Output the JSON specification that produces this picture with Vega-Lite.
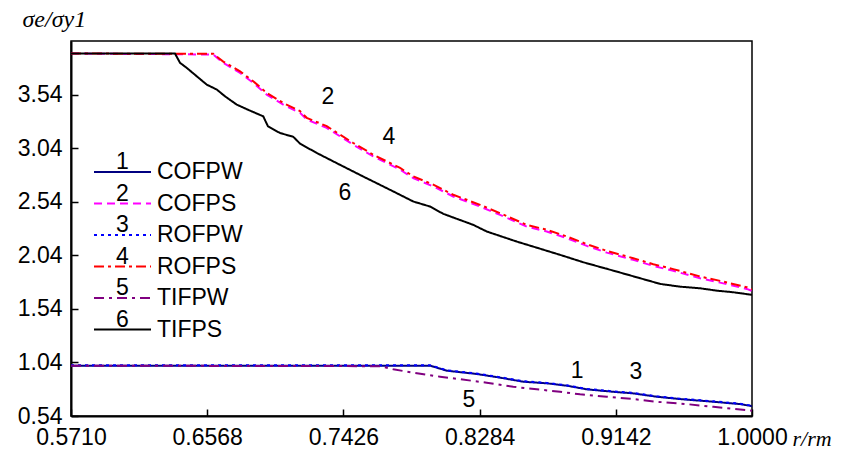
{
  "$schema": "https://vega.github.io/schema/vega-lite/v6.json",
  "width": 681,
  "height": 375,
  "autosize": {"type": "none"},
  "padding": {"left": 71, "top": 41, "right": 100, "bottom": 40},
  "background": "white",
  "config": {
    "view": {"stroke": "#000", "strokeWidth": 1.5},
    "axis": {
      "grid": false,
      "domainColor": "#000",
      "domainWidth": 2,
      "tickColor": "#000",
      "tickWidth": 1.5,
      "tickSize": -7,
      "labelFont": "Liberation Sans",
      "labelFontSize": 23,
      "labelColor": "#000",
      "labelFlush": false,
      "labelOverlap": false,
      "titleFont": "Liberation Serif",
      "titleFontStyle": "italic",
      "titleFontWeight": "normal",
      "titleColor": "#000"
    }
  },
  "datasets": {
    "curves": [
      {"s": "COFPW", "n": "1", "x": 0.571, "y": 1.01},
      {"s": "COFPW", "n": "1", "x": 0.7972, "y": 1.01},
      {"s": "COFPW", "n": "1", "x": 0.8077, "y": 0.963},
      {"s": "COFPW", "n": "1", "x": 0.8266, "y": 0.932},
      {"s": "COFPW", "n": "1", "x": 0.8413, "y": 0.898},
      {"s": "COFPW", "n": "1", "x": 0.8559, "y": 0.86},
      {"s": "COFPW", "n": "1", "x": 0.8707, "y": 0.845},
      {"s": "COFPW", "n": "1", "x": 0.8833, "y": 0.823},
      {"s": "COFPW", "n": "1", "x": 0.8959, "y": 0.789},
      {"s": "COFPW", "n": "1", "x": 0.9126, "y": 0.766},
      {"s": "COFPW", "n": "1", "x": 0.9252, "y": 0.751},
      {"s": "COFPW", "n": "1", "x": 0.94, "y": 0.72},
      {"s": "COFPW", "n": "1", "x": 0.9547, "y": 0.698},
      {"s": "COFPW", "n": "1", "x": 0.9756, "y": 0.673},
      {"s": "COFPW", "n": "1", "x": 0.9925, "y": 0.651},
      {"s": "COFPW", "n": "1", "x": 1.0, "y": 0.632},

      {"s": "COFPS", "n": "2", "x": 0.571, "y": 3.923},
      {"s": "COFPS", "n": "2", "x": 0.6606, "y": 3.914},
      {"s": "COFPS", "n": "2", "x": 0.6669, "y": 3.836},
      {"s": "COFPS", "n": "2", "x": 0.6775, "y": 3.742},
      {"s": "COFPS", "n": "2", "x": 0.6858, "y": 3.649},
      {"s": "COFPS", "n": "2", "x": 0.6943, "y": 3.54},
      {"s": "COFPS", "n": "2", "x": 0.7047, "y": 3.446},
      {"s": "COFPS", "n": "2", "x": 0.7153, "y": 3.369},
      {"s": "COFPS", "n": "2", "x": 0.7195, "y": 3.307},
      {"s": "COFPS", "n": "2", "x": 0.7321, "y": 3.229},
      {"s": "COFPS", "n": "2", "x": 0.7405, "y": 3.15},
      {"s": "COFPS", "n": "2", "x": 0.7488, "y": 3.072},
      {"s": "COFPS", "n": "2", "x": 0.7614, "y": 2.963},
      {"s": "COFPS", "n": "2", "x": 0.7783, "y": 2.839},
      {"s": "COFPS", "n": "2", "x": 0.7866, "y": 2.761},
      {"s": "COFPS", "n": "2", "x": 0.7992, "y": 2.683},
      {"s": "COFPS", "n": "2", "x": 0.8118, "y": 2.589},
      {"s": "COFPS", "n": "2", "x": 0.8287, "y": 2.495},
      {"s": "COFPS", "n": "2", "x": 0.8413, "y": 2.417},
      {"s": "COFPS", "n": "2", "x": 0.8581, "y": 2.308},
      {"s": "COFPS", "n": "2", "x": 0.8707, "y": 2.262},
      {"s": "COFPS", "n": "2", "x": 0.8833, "y": 2.2},
      {"s": "COFPS", "n": "2", "x": 0.8959, "y": 2.128},
      {"s": "COFPS", "n": "2", "x": 0.9085, "y": 2.065},
      {"s": "COFPS", "n": "2", "x": 0.9252, "y": 1.997},
      {"s": "COFPS", "n": "2", "x": 0.9378, "y": 1.941},
      {"s": "COFPS", "n": "2", "x": 0.9504, "y": 1.895},
      {"s": "COFPS", "n": "2", "x": 0.9673, "y": 1.826},
      {"s": "COFPS", "n": "2", "x": 0.9799, "y": 1.785},
      {"s": "COFPS", "n": "2", "x": 0.9967, "y": 1.726},
      {"s": "COFPS", "n": "2", "x": 1.0, "y": 1.707},

      {"s": "ROFPW", "n": "3", "x": 0.571, "y": 1.014},
      {"s": "ROFPW", "n": "3", "x": 0.7972, "y": 1.014},
      {"s": "ROFPW", "n": "3", "x": 0.8077, "y": 0.967},
      {"s": "ROFPW", "n": "3", "x": 0.8266, "y": 0.936},
      {"s": "ROFPW", "n": "3", "x": 0.8413, "y": 0.902},
      {"s": "ROFPW", "n": "3", "x": 0.8559, "y": 0.864},
      {"s": "ROFPW", "n": "3", "x": 0.8707, "y": 0.849},
      {"s": "ROFPW", "n": "3", "x": 0.8833, "y": 0.827},
      {"s": "ROFPW", "n": "3", "x": 0.8959, "y": 0.793},
      {"s": "ROFPW", "n": "3", "x": 0.9126, "y": 0.77},
      {"s": "ROFPW", "n": "3", "x": 0.9252, "y": 0.755},
      {"s": "ROFPW", "n": "3", "x": 0.94, "y": 0.724},
      {"s": "ROFPW", "n": "3", "x": 0.9547, "y": 0.702},
      {"s": "ROFPW", "n": "3", "x": 0.9756, "y": 0.677},
      {"s": "ROFPW", "n": "3", "x": 0.9925, "y": 0.655},
      {"s": "ROFPW", "n": "3", "x": 1.0, "y": 0.636},

      {"s": "ROFPS", "n": "4", "x": 0.571, "y": 3.923},
      {"s": "ROFPS", "n": "4", "x": 0.6606, "y": 3.92},
      {"s": "ROFPS", "n": "4", "x": 0.6669, "y": 3.848},
      {"s": "ROFPS", "n": "4", "x": 0.6775, "y": 3.757},
      {"s": "ROFPS", "n": "4", "x": 0.6858, "y": 3.664},
      {"s": "ROFPS", "n": "4", "x": 0.6943, "y": 3.556},
      {"s": "ROFPS", "n": "4", "x": 0.7047, "y": 3.462},
      {"s": "ROFPS", "n": "4", "x": 0.7153, "y": 3.385},
      {"s": "ROFPS", "n": "4", "x": 0.7195, "y": 3.323},
      {"s": "ROFPS", "n": "4", "x": 0.7321, "y": 3.245},
      {"s": "ROFPS", "n": "4", "x": 0.7405, "y": 3.166},
      {"s": "ROFPS", "n": "4", "x": 0.7488, "y": 3.088},
      {"s": "ROFPS", "n": "4", "x": 0.7614, "y": 2.979},
      {"s": "ROFPS", "n": "4", "x": 0.7783, "y": 2.855},
      {"s": "ROFPS", "n": "4", "x": 0.7866, "y": 2.777},
      {"s": "ROFPS", "n": "4", "x": 0.7992, "y": 2.699},
      {"s": "ROFPS", "n": "4", "x": 0.8118, "y": 2.605},
      {"s": "ROFPS", "n": "4", "x": 0.8287, "y": 2.511},
      {"s": "ROFPS", "n": "4", "x": 0.8413, "y": 2.433},
      {"s": "ROFPS", "n": "4", "x": 0.8581, "y": 2.324},
      {"s": "ROFPS", "n": "4", "x": 0.8707, "y": 2.278},
      {"s": "ROFPS", "n": "4", "x": 0.8833, "y": 2.216},
      {"s": "ROFPS", "n": "4", "x": 0.8959, "y": 2.144},
      {"s": "ROFPS", "n": "4", "x": 0.9085, "y": 2.081},
      {"s": "ROFPS", "n": "4", "x": 0.9252, "y": 2.013},
      {"s": "ROFPS", "n": "4", "x": 0.9378, "y": 1.957},
      {"s": "ROFPS", "n": "4", "x": 0.9504, "y": 1.911},
      {"s": "ROFPS", "n": "4", "x": 0.9673, "y": 1.842},
      {"s": "ROFPS", "n": "4", "x": 0.9799, "y": 1.801},
      {"s": "ROFPS", "n": "4", "x": 0.9967, "y": 1.742},
      {"s": "ROFPS", "n": "4", "x": 1.0, "y": 1.722},

      {"s": "TIFPW", "n": "5", "x": 0.571, "y": 1.01},
      {"s": "TIFPW", "n": "5", "x": 0.7657, "y": 1.005},
      {"s": "TIFPW", "n": "5", "x": 0.774, "y": 0.976},
      {"s": "TIFPW", "n": "5", "x": 0.7866, "y": 0.944},
      {"s": "TIFPW", "n": "5", "x": 0.8035, "y": 0.907},
      {"s": "TIFPW", "n": "5", "x": 0.8161, "y": 0.883},
      {"s": "TIFPW", "n": "5", "x": 0.8329, "y": 0.851},
      {"s": "TIFPW", "n": "5", "x": 0.8496, "y": 0.813},
      {"s": "TIFPW", "n": "5", "x": 0.8644, "y": 0.789},
      {"s": "TIFPW", "n": "5", "x": 0.8791, "y": 0.766},
      {"s": "TIFPW", "n": "5", "x": 0.8917, "y": 0.742},
      {"s": "TIFPW", "n": "5", "x": 0.9085, "y": 0.72},
      {"s": "TIFPW", "n": "5", "x": 0.9252, "y": 0.698},
      {"s": "TIFPW", "n": "5", "x": 0.94, "y": 0.673},
      {"s": "TIFPW", "n": "5", "x": 0.9589, "y": 0.651},
      {"s": "TIFPW", "n": "5", "x": 0.9756, "y": 0.626},
      {"s": "TIFPW", "n": "5", "x": 0.9967, "y": 0.595},
      {"s": "TIFPW", "n": "5", "x": 1.0, "y": 0.59},

      {"s": "TIFPS", "n": "6", "x": 0.571, "y": 3.923},
      {"s": "TIFPS", "n": "6", "x": 0.6365, "y": 3.923},
      {"s": "TIFPS", "n": "6", "x": 0.6397, "y": 3.836},
      {"s": "TIFPS", "n": "6", "x": 0.6439, "y": 3.789},
      {"s": "TIFPS", "n": "6", "x": 0.6502, "y": 3.711},
      {"s": "TIFPS", "n": "6", "x": 0.6565, "y": 3.633},
      {"s": "TIFPS", "n": "6", "x": 0.6628, "y": 3.587},
      {"s": "TIFPS", "n": "6", "x": 0.668, "y": 3.524},
      {"s": "TIFPS", "n": "6", "x": 0.6754, "y": 3.446},
      {"s": "TIFPS", "n": "6", "x": 0.6838, "y": 3.39},
      {"s": "TIFPS", "n": "6", "x": 0.6921, "y": 3.337},
      {"s": "TIFPS", "n": "6", "x": 0.6951, "y": 3.243},
      {"s": "TIFPS", "n": "6", "x": 0.7027, "y": 3.181},
      {"s": "TIFPS", "n": "6", "x": 0.711, "y": 3.146},
      {"s": "TIFPS", "n": "6", "x": 0.7153, "y": 3.082},
      {"s": "TIFPS", "n": "6", "x": 0.7258, "y": 2.995},
      {"s": "TIFPS", "n": "6", "x": 0.7425, "y": 2.869},
      {"s": "TIFPS", "n": "6", "x": 0.7551, "y": 2.775},
      {"s": "TIFPS", "n": "6", "x": 0.772, "y": 2.651},
      {"s": "TIFPS", "n": "6", "x": 0.7783, "y": 2.604},
      {"s": "TIFPS", "n": "6", "x": 0.7866, "y": 2.542},
      {"s": "TIFPS", "n": "6", "x": 0.7972, "y": 2.495},
      {"s": "TIFPS", "n": "6", "x": 0.8055, "y": 2.427},
      {"s": "TIFPS", "n": "6", "x": 0.8244, "y": 2.324},
      {"s": "TIFPS", "n": "6", "x": 0.8329, "y": 2.262},
      {"s": "TIFPS", "n": "6", "x": 0.8518, "y": 2.168},
      {"s": "TIFPS", "n": "6", "x": 0.8622, "y": 2.121},
      {"s": "TIFPS", "n": "6", "x": 0.8791, "y": 2.044},
      {"s": "TIFPS", "n": "6", "x": 0.8937, "y": 1.975},
      {"s": "TIFPS", "n": "6", "x": 0.9126, "y": 1.897},
      {"s": "TIFPS", "n": "6", "x": 0.9295, "y": 1.826},
      {"s": "TIFPS", "n": "6", "x": 0.9421, "y": 1.773},
      {"s": "TIFPS", "n": "6", "x": 0.9547, "y": 1.747},
      {"s": "TIFPS", "n": "6", "x": 0.9673, "y": 1.732},
      {"s": "TIFPS", "n": "6", "x": 0.9778, "y": 1.71},
      {"s": "TIFPS", "n": "6", "x": 0.9882, "y": 1.695},
      {"s": "TIFPS", "n": "6", "x": 1.0, "y": 1.671}
    ],
    "notes": [
      {"t": "2", "x": 0.7329, "y": 3.513},
      {"t": "4", "x": 0.7713, "y": 3.148},
      {"t": "6", "x": 0.7436, "y": 2.624},
      {"t": "1", "x": 0.8898, "y": 0.961},
      {"t": "3", "x": 0.9269, "y": 0.951},
      {"t": "5", "x": 0.8217, "y": 0.69}
    ]
  },
  "layer": [
    {
      "data": {"name": "curves"},
      "mark": {"type": "line", "strokeWidth": 2, "clip": true},
      "encoding": {
        "x": {
          "field": "x", "type": "quantitative",
          "scale": {"domain": [0.571, 1.0], "nice": false, "zero": false},
          "axis": {
            "values": [0.571, 0.6568, 0.7426, 0.8284, 0.9142, 1.0],
            "format": ".4f",
            "labelPadding": 17,
            "title": "r/rm",
            "titleFontSize": 22,
            "titleAlign": "left",
            "titleBaseline": "middle",
            "titleAnchor": "start",
            "titleX": 721,
            "titleY": 22
          }
        },
        "y": {
          "field": "y", "type": "quantitative",
          "scale": {"domain": [0.54, 4.04], "nice": false, "zero": false},
          "axis": {
            "values": [0.54, 1.04, 1.54, 2.04, 2.54, 3.04, 3.54],
            "format": ".2f",
            "labelPadding": 16,
            "title": "σe/σy1",
            "titleFontSize": 24,
            "titleAngle": 0,
            "titleAlign": "left",
            "titleBaseline": "middle",
            "titleAnchor": "start",
            "titleX": -49,
            "titleY": -22
          }
        },
        "color": {
          "field": "s", "type": "nominal",
          "scale": {
            "domain": ["COFPW", "COFPS", "ROFPW", "ROFPS", "TIFPW", "TIFPS"],
            "range": ["#000080", "#FF00FF", "#0000FF", "#FF0000", "#800080", "#000000"]
          },
          "legend": {
            "orient": "none", "legendX": 22, "legendY": 121, "title": null,
            "symbolType": "stroke", "symbolSize": 3249, "symbolStrokeWidth": 2,
            "clipHeight": 20, "rowPadding": 8.5, "labelOffset": 5,
            "labelFont": "Liberation Sans", "labelFontSize": 23, "labelColor": "#000"
          }
        },
        "strokeDash": {
          "field": "s", "type": "nominal",
          "scale": {
            "domain": ["COFPW", "COFPS", "ROFPW", "ROFPS", "TIFPW", "TIFPS"],
            "range": [[1, 0], [8, 5], [3, 4], [10, 4, 3, 4], [10, 5, 3, 5], [1, 0]]
          },
          "legend": {
            "orient": "none", "legendX": 22, "legendY": 121, "title": null,
            "symbolType": "stroke", "symbolSize": 3249, "symbolStrokeWidth": 2,
            "clipHeight": 20, "rowPadding": 8.5, "labelOffset": 5,
            "labelFont": "Liberation Sans", "labelFontSize": 23, "labelColor": "#000"
          }
        }
      }
    },
    {
      "data": {"name": "curves"},
      "mark": {"type": "point", "opacity": 0},
      "encoding": {
        "x": {"field": "x", "type": "quantitative"},
        "y": {"field": "y", "type": "quantitative"},
        "shape": {
          "field": "n", "type": "nominal",
          "scale": {"domain": ["1", "2", "3", "4", "5", "6"]},
          "legend": {
            "orient": "none", "legendX": 20, "legendY": 111, "title": null,
            "symbolOpacity": 0, "symbolSize": 25,
            "clipHeight": 20, "rowPadding": 8.5, "labelOffset": 2,
            "labelFont": "Liberation Sans", "labelFontSize": 23, "labelColor": "#000"
          }
        }
      }
    },
    {
      "data": {"name": "notes"},
      "mark": {"type": "text", "font": "Liberation Sans", "fontSize": 23, "color": "#000", "align": "center", "baseline": "middle"},
      "encoding": {
        "x": {"field": "x", "type": "quantitative"},
        "y": {"field": "y", "type": "quantitative"},
        "text": {"field": "t"}
      }
    }
  ]
}
